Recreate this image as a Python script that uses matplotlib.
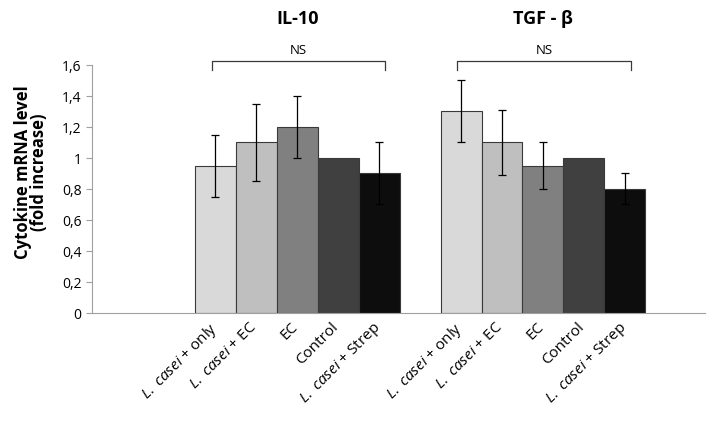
import numpy as np
import matplotlib
matplotlib.use("Agg")
import matplotlib.pyplot as plt
import matplotlib.transforms as mtrans
from matplotlib.ticker import FuncFormatter

plt.rcParams['font.family'] = ['Open Sans', 'DejaVu Sans']
plt.rcParams['mathtext.fontset'] = 'custom'
plt.rcParams['mathtext.it'] = 'Open Sans:italic'
plt.rcParams['mathtext.rm'] = 'Open Sans'

# data
groups = ['IL-10', 'TGF - β']
treatments = [r'$\it{L.\ casei}$ + only', r'$\it{L.\ casei}$ + EC', 'EC', 'Control',
              r'$\it{L.\ casei}$ + Strep']
il10 = [0.95, 1.10, 1.20, 1.00, 0.90]
il10_err = [0.20, 0.25, 0.20, 0.0, 0.20]
tgfb = [1.30, 1.10, 0.95, 1.00, 0.80]
tgfb_err = [0.20, 0.21, 0.15, 0.0, 0.10]
colors = ['#d9d9d9', '#bfbfbf', '#808080', '#404040', '#0d0d0d']

fig = plt.figure(figsize=(7.13, 4.31), dpi=100)
ax = fig.add_axes([0.129, 0.2715, 0.860, 0.5755])

w = 1 / 6
centers = [1, 2]
ticks, labels = [], []
for gi, (vals, errs) in enumerate([(il10, il10_err), (tgfb, tgfb_err)]):
    xs = centers[gi] + (np.arange(5) - 2) * w
    ax.bar(xs, vals, width=w, color=colors, edgecolor='#3a3a3a', linewidth=0.8, zorder=2)
    for x, v, e in zip(xs, vals, errs):
        if e > 0:
            ax.errorbar(x, v, yerr=e, fmt='none', ecolor='black', elinewidth=0.9,
                        capsize=3, capthick=0.9, zorder=3)
    ticks += list(xs)
    labels += treatments
    # NS bracket
    x0, x1 = xs[0] - 0.015, xs[-1] + 0.025
    ax.plot([x0, x0, x1, x1], [1.568, 1.626, 1.626, 1.568], color='#3a3a3a',
            lw=0.9, clip_on=False)
    ax.text((x0 + x1) / 2, 1.655, 'NS', ha='center', va='bottom', fontsize=9.5)
    ax.text(centers[gi], 1.905, groups[gi], ha='center', va='center',
            fontsize=13, fontweight='bold')

ax.set_xlim(0.165, 2.66)
ax.set_ylim(0, 1.6)
ax.set_yticks(np.arange(0, 1.61, 0.2))
ax.yaxis.set_major_formatter(FuncFormatter(
    lambda v, p: '0' if abs(v) < 1e-9 else ('1' if abs(v - 1) < 1e-9 else f'{v:.1f}'.replace('.', ','))))
ax.set_xticks(ticks)
ax.set_xticklabels(labels, rotation=45, ha='right', rotation_mode='anchor', fontsize=11)
ax.tick_params(axis='x', length=0, pad=4)
shift = mtrans.ScaledTranslation(-7 / 100, 0, fig.dpi_scale_trans)
for lab in ax.get_xticklabels():
    lab.set_transform(lab.get_transform() + shift)
ax.tick_params(axis='y', length=4, color='#a0a0a0', labelsize=10)
for s in ['top', 'right']:
    ax.spines[s].set_visible(False)
ax.spines['left'].set_color('#a0a0a0')
ax.spines['bottom'].set_color('#a0a0a0')
ax.set_ylabel('Cytokine mRNA level\n(fold increase)', fontsize=12, fontweight='bold',
              linespacing=0.88)
ax.yaxis.set_label_coords(-0.072, 0.57)

fig.savefig('out.png', dpi=100)
